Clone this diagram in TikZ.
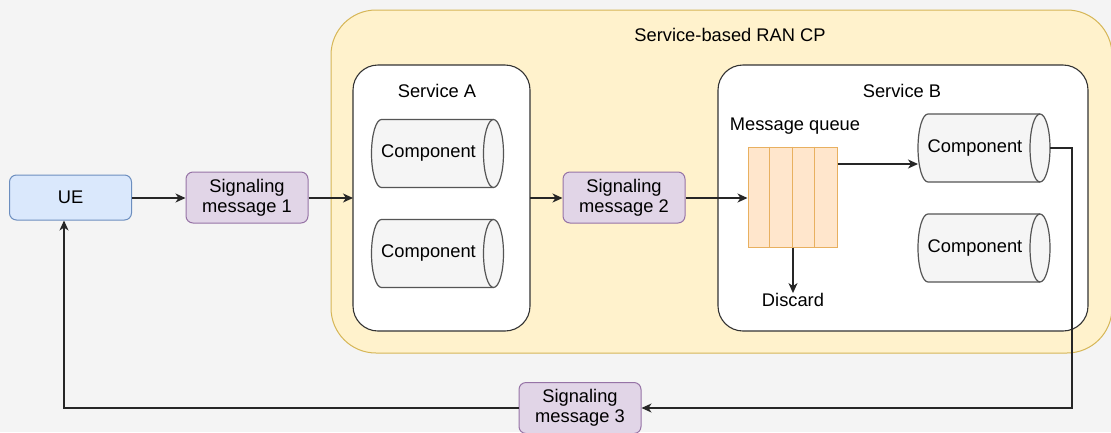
\documentclass[tikz,border=0pt]{standalone}
\usepackage{fontspec}
\setmainfont{Liberation Sans}
\usetikzlibrary{arrows.meta}
\definecolor{bgc}{HTML}{F4F4F4}
\definecolor{uefill}{HTML}{DAE8FC}
\definecolor{uedraw}{HTML}{6C8EBF}
\definecolor{msgfill}{HTML}{E1D5E7}
\definecolor{msgdraw}{HTML}{9673A6}
\definecolor{ranfill}{HTML}{FFF2CC}
\definecolor{randraw}{HTML}{D6B656}
\definecolor{qfill}{HTML}{FFE6CC}
\definecolor{qdraw}{HTML}{E8B060}
\definecolor{compfill}{HTML}{F5F5F5}
\definecolor{compdraw}{HTML}{555555}
\definecolor{svcdraw}{HTML}{333333}
\tikzset{
  txt/.style={font=\fontsize{18.3}{21}\selectfont, inner sep=0pt},
  uebox/.style={draw=uedraw, fill=uefill, rounded corners=7pt, line width=1pt,
    minimum width=122pt, minimum height=45pt, txt},
  msgbox/.style={draw=msgdraw, fill=msgfill, rounded corners=7pt, line width=1pt,
    minimum width=122pt, minimum height=51pt, txt, align=center},
  svcbox/.style={draw=svcdraw, fill=white, rounded corners=25pt, line width=1.1pt},
  ranbox/.style={draw=randraw, fill=ranfill, rounded corners=45pt, line width=1pt},
  compline/.style={draw=compdraw, line width=1.2pt},
  conn/.style={line width=1.2pt, draw=black!85, -{Stealth[length=10pt,width=9pt,inset=3pt]}},
  plain/.style={line width=1.2pt, draw=black!85},
}
\newcommand\comp[3]{%
  \coordinate (#1c) at (#2,#3);
  \draw[compline, fill=compfill]
    ([xshift=-56pt,yshift=34pt]#1c) -- ([xshift=56pt,yshift=34pt]#1c)
    arc[start angle=90, end angle=-90, x radius=10pt, y radius=34pt]
    -- ([xshift=-56pt,yshift=-34pt]#1c)
    arc[start angle=270, end angle=90, x radius=10pt, y radius=34pt] -- cycle;
  \draw[compline] ([xshift=56pt,yshift=34pt]#1c)
    arc[start angle=90, end angle=270, x radius=10pt, y radius=34pt];
  \coordinate (#1w) at ([xshift=-66pt]#1c);
  \coordinate (#1e) at ([xshift=66pt]#1c);
  \node[txt] (#1) at ([xshift=-9pt]#1c) {Component};
}
\begin{document}
\begin{tikzpicture}[x=1pt, y=-1pt]
  \fill[bgc] (0,0) rectangle (1111,432);
  \useasboundingbox (0,0) rectangle (1111,432);
  % RAN container
  \draw[ranbox] (331,10) rectangle (1112,353);
  \node[txt] (title) at (730,35) {Service-based RAN CP};
  % Service A
  \draw[svcbox] (353,65) rectangle (530,331);
  \node[txt] (sa) at (437,91) {Service A};
  \coordinate (saw) at (353,198);
  \coordinate (sae) at (530,198);
  \comp{a1}{437.5}{153.5}
  \comp{a2}{437.5}{253.5}
  % Service B
  \draw[svcbox] (718,65) rectangle (1088,331);
  \node[txt] (sb) at (902,91) {Service B};
  \node[txt] (mq) at (795,126) {Message queue};
  \node[draw=qdraw, fill=qfill, line width=1pt, minimum width=89pt, minimum height=100pt, inner sep=0pt] (q) at (792.5,197) {};
  \foreach \i in {1,2,3}
    \draw[qdraw, line width=1pt] ([xshift=\i*22.25pt]q.north west) -- ([xshift=\i*22.25pt]q.south west);
  \comp{b1}{984}{148}
  \comp{b2}{984}{248}
  \node[txt] (disc) at (793,300) {Discard};
  % outside nodes
  \node[uebox] (ue) at (70.5,197.5) {UE};
  \node[msgbox] (m1) at (247,197.5) {Signaling\\[-1pt]message 1};
  \node[msgbox] (m2) at (624,197.5) {Signaling\\[-1pt]message 2};
  \node[msgbox] (m3) at (580,408) {Signaling\\[-1pt]message 3};
  % connectors
  \draw[conn] (ue.east |- 0,198) -- (m1.west |- 0,198);
  \draw[conn] (m1.east |- 0,198) -- (saw);
  \draw[conn] (sae) -- (m2.west |- 0,198);
  \draw[conn] (m2.east |- 0,198) -- (q.west |- 0,198);
  \draw[conn] (q.east |- 0,164) -- (b1w |- 0,164);
  \draw[conn] (q.south -| 793,0) -- (disc.north);
  \coordinate (turn1) at (1072,148);
  \coordinate (turn2) at (1072,408);
  \coordinate (turn3) at (64,408);
  \draw[conn] (b1e) -- (turn1) -- (turn2) -- (m3.east);
  \draw[conn] (m3.west) -- (turn3) -- (ue.south -| turn3);
\end{tikzpicture}
\end{document}
